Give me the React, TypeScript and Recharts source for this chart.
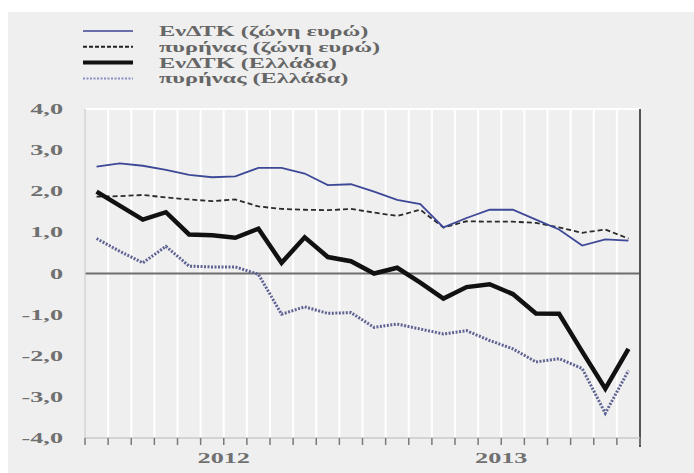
import React from 'react';
import {
  ComposedChart,
  Line,
  XAxis,
  YAxis,
  CartesianGrid,
  ReferenceLine,
} from 'recharts';

// Months Jan 2012 – Dec 2013
const months = [
  '2012-01', '2012-02', '2012-03', '2012-04', '2012-05', '2012-06',
  '2012-07', '2012-08', '2012-09', '2012-10', '2012-11', '2012-12',
  '2013-01', '2013-02', '2013-03', '2013-04', '2013-05', '2013-06',
  '2013-07', '2013-08', '2013-09', '2013-10', '2013-11', '2013-12',
];

const euroHicp = [2.6, 2.68, 2.62, 2.52, 2.4, 2.34, 2.36, 2.57, 2.57, 2.43, 2.15, 2.17, 1.99, 1.79, 1.69, 1.12, 1.35, 1.55, 1.55, 1.31, 1.07, 0.68, 0.83, 0.8];
const euroCore = [1.87, 1.88, 1.91, 1.85, 1.8, 1.76, 1.8, 1.63, 1.57, 1.55, 1.54, 1.57, 1.48, 1.4, 1.55, 1.12, 1.27, 1.26, 1.26, 1.23, 1.12, 0.99, 1.07, 0.85];
const greeceHicp = [1.99, 1.65, 1.31, 1.49, 0.95, 0.93, 0.87, 1.09, 0.26, 0.88, 0.4, 0.3, 0.0, 0.14, -0.22, -0.61, -0.33, -0.26, -0.5, -0.97, -0.98, -1.9, -2.8, -1.83];
const greeceCore = [0.85, 0.54, 0.26, 0.66, 0.18, 0.16, 0.16, -0.02, -0.99, -0.81, -0.97, -0.95, -1.31, -1.23, -1.35, -1.47, -1.39, -1.63, -1.83, -2.15, -2.07, -2.31, -3.4, -2.36];

const seriesNames = [
  'ΕνΔΤΚ (ζώνη ευρώ)',
  'πυρήνας (ζώνη ευρώ)',
  'ΕνΔΤΚ (Ελλάδα)',
  'πυρήνας (Ελλάδα)',
];

const yTicks = [-4, -3, -2, -1, 0, 1, 2, 3, 4];
// month boundaries (ticks) and year label positions
const xBoundaries = Array.from({ length: months.length + 1 }, (_, k) => k - 0.5);
const yearLabels: Record<string, string> = { '5.5': '2012', '17.5': '2013' };

const data = months.map((m, i) => ({
  i,
  month: m,
  euroHicp: euroHicp[i],
  euroCore: euroCore[i],
  greeceHicp: greeceHicp[i],
  greeceCore: greeceCore[i],
}));

const FONT = '"Liberation Serif", "DejaVu Serif", serif';
const SX = 1.75;

const fmtY = (v: number) => (v === 0 ? '0' : v.toFixed(1).replace('.', ','));

const LeftTick = (props: any) => {
  const { x, y, payload } = props;
  return (
    <g transform={`translate(${x},${y})`}>
      <text transform={`scale(${SX},1)`} textAnchor="end" dy={5} fontSize={15} fontWeight="bold" fill="#707070" fontFamily={FONT}>
        {fmtY(payload.value)}
      </text>
    </g>
  );
};

const RightTick = (props: any) => {
  const { x, y, payload } = props;
  return (
    <g transform={`translate(${x + 40},${y})`}>
      <text transform={`scale(${SX},1)`} textAnchor="end" dy={5} fontSize={15} fontWeight="bold" fill="#707070" fontFamily={FONT}>
        {fmtY(payload.value)}
      </text>
    </g>
  );
};

const XTick = (props: any) => {
  const { x, y, payload } = props;
  const label = yearLabels[String(payload.value)];
  if (!label) return null;
  return (
    <g transform={`translate(${x},${y})`}>
      <text transform={`scale(${SX},1)`} textAnchor="middle" dy={16} fontSize={15} fontWeight="bold" fill="#707070" fontFamily={FONT}>
        {label}
      </text>
    </g>
  );
};

const legendRows = [
  { name: seriesNames[0], stroke: '#6a6ea8', width: 2, dash: undefined as string | undefined },
  { name: seriesNames[1], stroke: '#222', width: 2, dash: '4 2' },
  { name: seriesNames[2], stroke: '#111', width: 4, dash: undefined },
  { name: seriesNames[3], stroke: '#8a8ec4', width: 2, dash: '2 1.5' },
];

export default function App() {
  return (
    <div style={{ position: 'absolute', left: 0, top: 0, width: 694, height: 473, background: '#fff' }}>
      <div style={{ position: 'absolute', left: 8, top: 12, width: 686, height: 461, background: '#efefef' }} />
      <svg style={{ position: 'absolute', left: 0, top: 0 }} width={694} height={100}>
        {legendRows.map((r, k) => {
          const cy = 31 + k * 15.8;
          return (
            <g key={r.name}>
              <line x1={83} x2={133} y1={cy} y2={cy} stroke={r.stroke} strokeWidth={r.width} strokeDasharray={r.dash} />
              <g transform={`translate(159,${cy + 5})`}>
                <text transform="scale(1.62,1)" fontSize={15} fontWeight="bold" fill="#666" fontFamily={FONT}>
                  {r.name}
                </text>
              </g>
            </g>
          );
        })}
      </svg>
      <div style={{ position: 'absolute', left: 0, top: 0 }}>
        <ComposedChart
          width={694}
          height={473}
          data={data}
          margin={{ top: 109, right: 4, bottom: 5, left: 25 }}
        >
          <CartesianGrid stroke="#ffffff" strokeWidth={2} />
          <XAxis
            type="number"
            dataKey="i"
            domain={[-0.5, 23.5]}
            ticks={xBoundaries}
            interval={0}
            height={30}
            axisLine={{ stroke: '#c4c4c4', strokeWidth: 1.5 }}
            tickLine={{ stroke: '#7a7a7a', strokeWidth: 1.5 }}
            tickSize={7}
            tick={<XTick />}
          />
          <YAxis
            yAxisId="left"
            orientation="left"
            domain={[-4, 4]}
            ticks={yTicks}
            width={60}
            axisLine={{ stroke: '#cfcfcf', strokeWidth: 1.5 }}
            tickLine={false}
            tickSize={0}
            tickMargin={22}
            tick={<LeftTick />}
          />
          <YAxis
            yAxisId="right"
            orientation="right"
            domain={[-4, 4]}
            ticks={yTicks}
            width={50}
            axisLine={false}
            tickLine={false}
            tickSize={0}
            tickMargin={8}
            tick={<RightTick />}
          />
          <ReferenceLine yAxisId="left" y={0} stroke="#6e6e6e" strokeWidth={2} />
          <ReferenceLine
            yAxisId="left"
            segment={[{ x: 23.5, y: 4 }, { x: 23.5, y: -4.22 }]}
            stroke="#555"
            strokeWidth={2}
            ifOverflow="visible"
          />
          <Line yAxisId="left" dataKey="euroCore" name={seriesNames[1]} stroke="#2a2a2a" strokeWidth={1.8} strokeDasharray="5 3" dot={false} isAnimationActive={false} />
          <Line yAxisId="left" dataKey="euroHicp" name={seriesNames[0]} stroke="#3d4896" strokeWidth={1.8} dot={false} isAnimationActive={false} />
          <Line yAxisId="left" dataKey="greeceCore" name={seriesNames[3]} stroke="#5e6393" strokeWidth={3} strokeDasharray="2 1.5" dot={false} isAnimationActive={false} />
          <Line yAxisId="left" dataKey="greeceHicp" name={seriesNames[2]} stroke="#111" strokeWidth={4.5} dot={false} isAnimationActive={false} />
        </ComposedChart>
      </div>
    </div>
  );
}
